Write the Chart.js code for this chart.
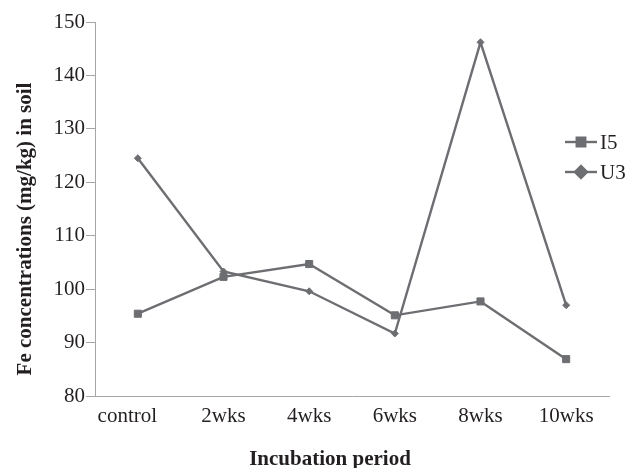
<!DOCTYPE html>
<html>
<head>
<meta charset="utf-8">
<script src="https://cdn.jsdelivr.net/npm/chart.js@4.4.1/dist/chart.umd.min.js"></script>
<style>
  html, body { margin: 0; padding: 0; background: #fff; }
</style>
</head>
<body>
<canvas id="chart" width="638" height="468"></canvas>
<script>
"use strict";

// data
var categories = ['control', '2wks', '4wks', '6wks', '8wks', '10wks'];
var i5 = [95.4, 102.3, 104.7, 95.1, 97.7, 86.9];
var u3 = [124.5, 103.3, 99.6, 91.7, 146.2, 97.0];
var yMin = 80, yMax = 150, yStep = 10;

var lineGrey = '#6d6e71';
var axisGrey = '#a6a6a6';
var textCol = '#231f20';
var serif = '"Liberation Serif", "Times New Roman", serif';

// axis titles and the legend sit where the original figure put them
var extras = {
	id: 'extras',
	afterDraw: function (chart) {
		var ctx = chart.ctx;
		ctx.save();
		ctx.fillStyle = textCol;
		ctx.font = 'bold 21px ' + serif;
		ctx.textAlign = 'center';
		ctx.textBaseline = 'alphabetic';
		ctx.fillText('Incubation period', 330, 465);

		ctx.save();
		ctx.translate(31, 229);
		ctx.rotate(-Math.PI / 2);
		ctx.fillText('Fe concentrations (mg/kg) in soil', 0, 0);
		ctx.restore();

		// legend
		var rows = [142, 172];
		chart.data.datasets.forEach(function (ds, i) {
			var y = rows[i];
			ctx.strokeStyle = ds.borderColor;
			ctx.lineWidth = ds.borderWidth;
			ctx.beginPath();
			ctx.moveTo(565, y);
			ctx.lineTo(597, y);
			ctx.stroke();
			Chart.helpers.drawPoint(ctx, {
				pointStyle: ds.pointStyle,
				radius: 6,
				borderWidth: 1,
				rotation: 0
			}, 581, y);
			ctx.fillStyle = ds.borderColor;
			ctx.fill();
			ctx.fillStyle = textCol;
			ctx.font = '21px ' + serif;
			ctx.textAlign = 'left';
			ctx.textBaseline = 'middle';
			ctx.fillText(ds.label, 600, y + 1);
		});
		ctx.restore();
	}
};

var ctx = document.getElementById('chart').getContext('2d');
var chart = new Chart(ctx, {
	type: 'line',
	data: {
		labels: categories,
		datasets: [{
			label: 'I5',
			data: i5,
			borderColor: lineGrey,
			backgroundColor: lineGrey,
			borderWidth: 2.4,
			pointStyle: 'rect',
			pointRadius: 5,
			pointBorderWidth: 1,
			tension: 0
		}, {
			label: 'U3',
			data: u3,
			borderColor: lineGrey,
			backgroundColor: lineGrey,
			borderWidth: 2.4,
			pointStyle: 'rectRot',
			pointRadius: 3.5,
			pointBorderWidth: 1,
			tension: 0
		}]
	},
	options: {
		responsive: false,
		animation: false,
		devicePixelRatio: 1,
		layout: {padding: {top: 22, right: 29, bottom: 0, left: 0}},
		plugins: {
			legend: {display: false},
			tooltip: {enabled: false}
		},
		scales: {
			x: {
				offset: true,
				grid: {display: false, drawTicks: false},
				border: {display: true, color: axisGrey, width: 1},
				ticks: {
					color: textCol,
					font: {family: serif, size: 21},
					padding: 8,
					maxRotation: 0,
					// the original sets "control" a little left of its point
					callback: function (value, index) {
						var lbl = this.getLabelForValue(value);
						return index === 0 ? lbl + '\u2002\u2002' : lbl;
					}
				},
				afterFit: function (s) { s.height = 72; }
			},
			y: {
				min: yMin,
				max: yMax,
				ticks: {stepSize: yStep, color: textCol, font: {family: serif, size: 21}, padding: 1},
				grid: {drawOnChartArea: false, drawTicks: true, tickLength: 9, color: axisGrey},
				border: {display: true, color: axisGrey, width: 1},
				afterFit: function (s) { s.width = 95; }
			}
		}
	},
	plugins: [extras]
});
</script>
</body>
</html>
